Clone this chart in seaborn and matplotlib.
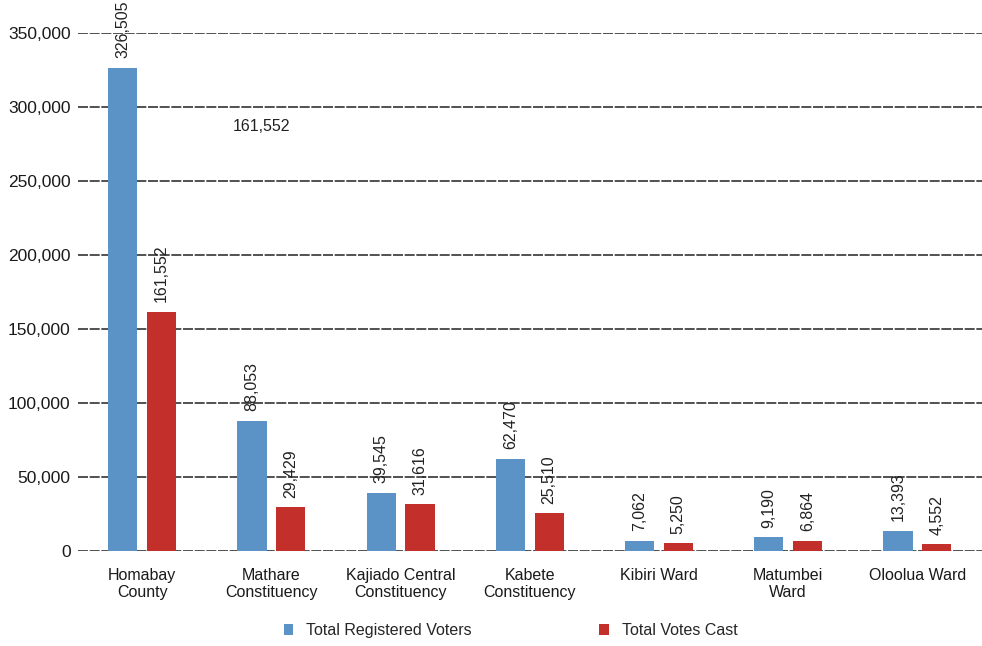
"""
Registered voters vs votes cast, grouped bar chart.
"""

import matplotlib
matplotlib.use("Agg")
import matplotlib.pyplot as plt
import seaborn as sns
import pandas as pd
from matplotlib.ticker import FuncFormatter

categories = ["Homabay\nCounty", "Mathare\nConstituency", "Kajiado Central\nConstituency",
              "Kabete\nConstituency", "Kibiri Ward", "Matumbei\nWard", "Oloolua Ward"]
registered = [326505, 88053, 39545, 62470, 7062, 9190, 13393]
votes_cast = [161552, 29429, 31616, 25510, 5250, 6864, 4552]
series = ["Total Registered Voters", "Total Votes Cast"]
y_ticks = [0, 50000, 100000, 150000, 200000, 250000, 300000, 350000]
stray_label = "161,552"

df = pd.DataFrame({
    "Area": categories * 2,
    "Series": [series[0]] * len(categories) + [series[1]] * len(categories),
    "Votes": registered + votes_cast,
})

sns.set_style("white")
plt.rcParams['font.family'] = ['Liberation Sans', 'DejaVu Sans']

fig = plt.figure(figsize=(9.82, 6.46), dpi=100)
ax = fig.add_axes([0.079, 0.147, 0.921, 0.802])

sns.barplot(data=df, x="Area", y="Votes", hue="Series", order=categories,
            hue_order=series, palette=["#5b93c7", "#c3302c"],
            width=0.6, gap=0.25, saturation=1, linewidth=0, ax=ax)

for container in ax.containers:
    ax.bar_label(container, labels=[f"{v:,.0f}" for v in container.datavalues],
                 rotation=90, padding=7, fontsize=11.5, color="#222222")

ax.set_ylim(0, 350000)
ax.set_xlim(-0.5, len(categories) - 0.5)
ax.set_yticks(y_ticks)
ax.yaxis.set_major_formatter(FuncFormatter(lambda v, p: f"{v:,.0f}"))
ax.grid(axis="y", color="#333333", linewidth=1.2, linestyle=(0, (6, 1)))
ax.set_axisbelow(True)
for s in ax.spines.values():
    s.set_visible(False)
ax.tick_params(axis="both", length=0, colors="#1a1a1a")
ax.tick_params(axis="y", pad=5, labelsize=12.5)
ax.tick_params(axis="x", pad=12, labelsize=11.5)
ax.set_xlabel("")
ax.set_ylabel("")

ax.text(0.92, 287000, stray_label, ha="center", va="center", fontsize=11.5, color="#222222")

handles, labels = ax.get_legend_handles_labels()
ax.get_legend().remove()
fig.legend(handles, labels, loc="lower center", bbox_to_anchor=(0.52, -0.01), ncol=2,
           frameon=False, handlelength=0.6, handleheight=0.6, columnspacing=8,
           fontsize=11.5)

fig.savefig("out.png", dpi=100)
